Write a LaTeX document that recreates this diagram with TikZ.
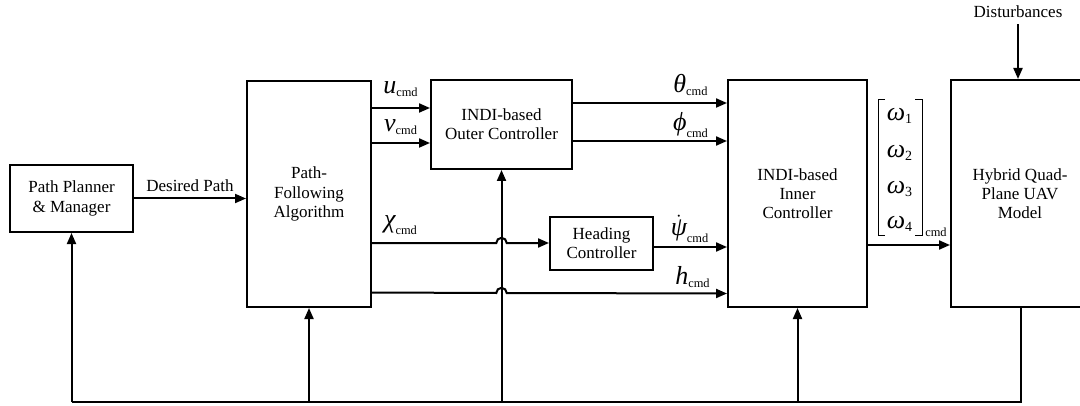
\documentclass[tikz,border=0pt]{standalone}
\usepackage{fontspec}
\setmainfont{Liberation Serif}
\usetikzlibrary{arrows.meta,calc}
\newcommand\cmdsub{\mbox{\fontsize{6.2}{6.2}\selectfont cmd}}
\newcommand\var[1]{\mbox{\fontsize{13}{13}\selectfont\itshape #1}}
\tikzset{
  box/.style={draw, line width=1pt, align=center, inner sep=0pt, font=\fontsize{8.5}{9.6}\selectfont},
  conn/.style={line width=1pt},
  arr/.style={line width=1pt, -{Triangle[length=5.5pt,width=4.5pt]}},
  lbl/.style={inner sep=0pt},
  txt/.style={inner sep=0pt, font=\fontsize{8.5}{9.6}\selectfont},
  brk/.style={line width=0.45pt}
}
\begin{document}
\begin{tikzpicture}[x=0.5pt,y=-0.5pt]
\useasboundingbox (0,0) rectangle (1080,406);
\clip (0,0) rectangle (1080,406);
% boxes
\node[box, minimum width=61.5pt, minimum height=33.5pt] (pp) at (71.5,198.5) {Path Planner\\\& Manager};
\node[box, minimum width=62pt, minimum height=113pt] (pf) at (309,194) {Path-\\Following\\Algorithm};
\node[box, minimum width=70.5pt, minimum height=44.5pt] (oc) at (501.5,124.5) {INDI-based\\Outer Controller};
\node[box, minimum width=51.5pt, minimum height=26.5pt] (hc) at (601.5,243.5) {Heading\\Controller};
\node[box, minimum width=69.5pt, minimum height=113.5pt] (ic) at (797.5,193.5) {INDI-based\\Inner\\Controller};
\node[box, minimum width=70pt, minimum height=113.5pt, anchor=west] (hy) at (950,193.5) {};
\node[txt, align=center] (hyt) at (1020,193.5) {Hybrid Quad-\\Plane UAV\\Model};
\node[txt] (dist) at (1018,12) {Disturbances};
% desired path
\draw[arr] (pp.east) -- (pf.west |- pp.east) node[txt, midway, above=3pt] (dp) {Desired Path};
% u, v
\draw[arr] (pf.east |- 0,108) -- (oc.west |- 0,108);
\draw[arr] (pf.east |- 0,143) -- (oc.west |- 0,143);
\node[lbl] (ul) at (401,89) {$\var{u}_{\cmdsub}$};
\node[lbl] (vl) at (401,127) {$\var{v}_{\cmdsub}$};
% theta, phi
\draw[arr] (oc.east |- 0,103) -- (ic.west |- 0,103);
\draw[arr] (oc.east |- 0,141) -- (ic.west |- 0,141);
\node[lbl] (thl) at (691,85) {$\var{θ}_{\cmdsub}$};
\node[lbl] (phl) at (691,125) {$\var{ϕ}_{\cmdsub}$};
% chi with jump
\draw[arr] (pf.east |- 0,243) -- ($(oc.south |- 0,243)+(-2.6pt,0)$) arc[start angle=180,end angle=0,radius=2.6pt] -- (hc.west |- 0,243);
\node[lbl] (chl) at (401,225) {$\var{χ}_{\cmdsub}$};
% psi dot
\draw[arr] (hc.east |- 0,247) -- (ic.west |- 0,247);
\node[lbl] (psl) at (690,229) {$\dot{\var{ψ}}_{\cmdsub}$};
% h with jump
\draw[arr] (pf.east |- 0,292.5) -- ($(oc.south |- 0,293)+(-2.6pt,0)$) arc[start angle=180,end angle=0,radius=2.6pt] -- (ic.west |- 0,293.5);
\node[lbl] (hl) at (693,277) {$\var{h}_{\cmdsub}$};
% inner -> hybrid
\draw[arr] (ic.east |- 0,245) -- (hy.west |- 0,245);
% matrix
\draw[brk] (885,99) -- (878,99) -- (878,235) -- (885,235);
\draw[brk] (915,99) -- (922,99) -- (922,235) -- (915,235);
\node[lbl] (w1) at (900,116) {$\var{ω}_{\mbox{\fontsize{7}{7}\selectfont 1}}$};
\node[lbl] (w2) at (900,153) {$\var{ω}_{\mbox{\fontsize{7}{7}\selectfont 2}}$};
\node[lbl] (w3) at (900,189) {$\var{ω}_{\mbox{\fontsize{7}{7}\selectfont 3}}$};
\node[lbl] (w4) at (900,224) {$\var{ω}_{\mbox{\fontsize{7}{7}\selectfont 4}}$};
\node[inner sep=0pt, font=\fontsize{6.2}{6.2}\selectfont] (wc) at (936,232) {cmd};
% disturbances
\draw[arr] (dist.south) ++(0,-3pt) -- (dist.south |- hy.north);
% feedback
\coordinate (fb) at (1021,402);
\draw[conn] (hy.south -| fb) -- (fb) -- (fb -| pp.south);
\draw[arr] (fb -| pp.south) -- (pp.south);
\draw[arr] (fb -| pf.south) -- (pf.south);
\draw[arr] (fb -| oc.south) -- (oc.south);
\draw[arr] (fb -| ic.south) -- (ic.south);
\end{tikzpicture}
\end{document}
